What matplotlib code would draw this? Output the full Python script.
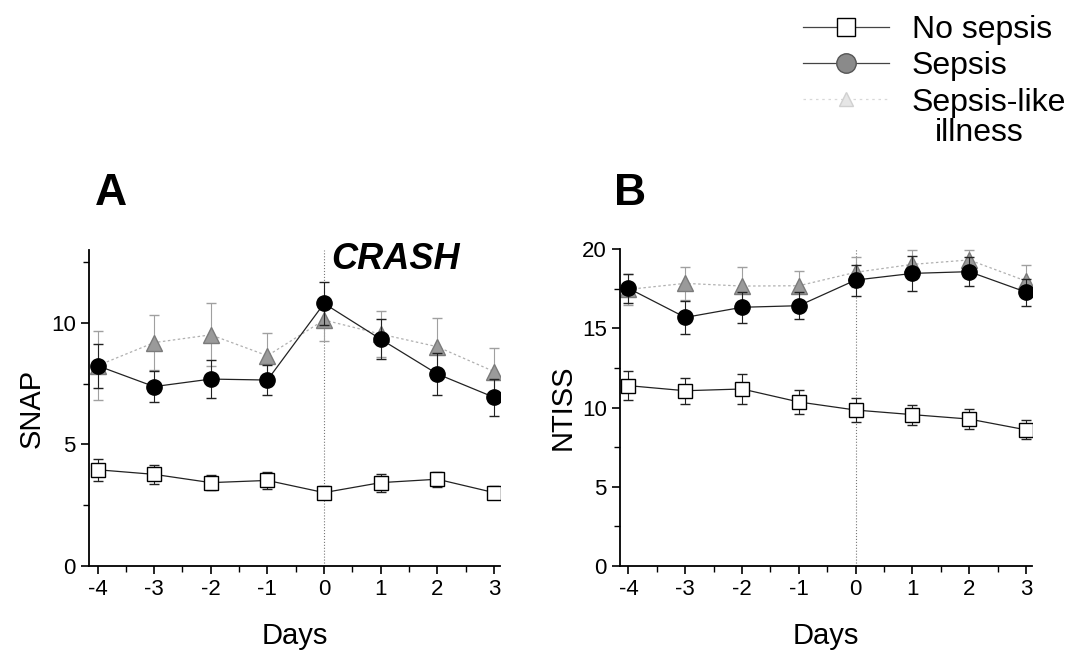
import numpy as np
import matplotlib
matplotlib.use("Agg")
import matplotlib.pyplot as plt
from matplotlib.lines import Line2D
from matplotlib.ticker import MultipleLocator

plt.rcParams['font.family'] = ['Liberation Sans', 'DejaVu Sans']
plt.rcParams['axes.unicode_minus'] = False

days = [-4, -3, -2, -1, 0, 1, 2, 3]

# panel A: SNAP
snap_no = [3.96, 3.77, 3.43, 3.52, 3.02, 3.43, 3.57, 3.02]
snap_no_err = [0.46, 0.38, 0.31, 0.36, 0.26, 0.37, 0.31, 0.26]
snap_sepsis = [8.24, 7.38, 7.69, 7.65, 10.8, 9.33, 7.9, 6.94]
snap_sepsis_err = [0.9, 0.65, 0.79, 0.63, 0.87, 0.82, 0.87, 0.75]
snap_like = [8.24, 9.19, 9.51, 8.65, 10.12, 9.54, 9.02, 8.0]
snap_like_err = [1.43, 1.13, 1.3, 0.95, 0.85, 0.95, 1.2, 0.95]

# panel B: NTISS
ntiss_no = [11.39, 11.07, 11.18, 10.36, 9.85, 9.56, 9.28, 8.6]
ntiss_no_err = [0.93, 0.82, 0.92, 0.74, 0.74, 0.63, 0.63, 0.6]
ntiss_sepsis = [17.54, 15.7, 16.34, 16.44, 18.06, 18.48, 18.59, 17.3]
ntiss_sepsis_err = [0.9, 1.03, 0.97, 0.84, 0.98, 1.1, 0.93, 0.85]
ntiss_like = [17.47, 17.85, 17.68, 17.7, 18.55, 19.05, 19.33, 18.0]
ntiss_like_err = [1.0, 1.05, 1.2, 0.95, 0.95, 0.9, 0.6, 1.0]

labels = ['No sepsis', 'Sepsis', 'Sepsis-like']

fig = plt.figure(figsize=(10.75, 6.57), dpi=100)
axA = fig.add_axes([0.0828, 0.1385, 0.382, 0.481])
axB = fig.add_axes([0.5767, 0.1385, 0.383, 0.482])


def panel(ax, no, no_err, sep, sep_err, like, like_err, ytop, ylab):
    ax.axvline(0, color='#777777', lw=0.8, ls=':', zorder=1)
    ax.errorbar(days, like, yerr=like_err, color='#b0b0b0', ls=(0, (2, 2)), lw=0.9,
                marker='^', ms=12, mfc='#9a9a9a', mec='#7a7a7a',
                ecolor='#a0a0a0', elinewidth=0.8, capsize=3.5, zorder=2)
    ax.errorbar(days, sep, yerr=sep_err, color='#222222', lw=0.9,
                marker='o', ms=11, mfc='black', mec='black',
                ecolor='#222222', elinewidth=0.8, capsize=3.5, zorder=3)
    ax.errorbar(days, no, yerr=no_err, color='#222222', lw=0.9,
                marker='s', ms=10, mfc='white', mec='black', mew=1.0,
                ecolor='#222222', elinewidth=0.8, capsize=3.5, zorder=4)
    ax.set_xlim(-4.15, 3.1)
    ax.set_ylim(0, ytop)
    ax.spines['top'].set_visible(False)
    ax.spines['right'].set_visible(False)
    ax.spines['left'].set_linewidth(1.3)
    ax.spines['bottom'].set_linewidth(1.3)
    ax.set_xticks(days)
    ax.xaxis.set_minor_locator(MultipleLocator(0.5))
    ax.yaxis.set_major_locator(MultipleLocator(5))
    ax.yaxis.set_minor_locator(MultipleLocator(2.5))
    ax.tick_params(which='major', length=6, width=1.2, labelsize=16)
    ax.tick_params(which='minor', length=4, width=1.0)
    ax.set_ylabel(ylab, fontsize=21, labelpad=4)
    ax.set_xlabel('Days', fontsize=21, labelpad=16)


panel(axA, snap_no, snap_no_err, snap_sepsis, snap_sepsis_err,
      snap_like, snap_like_err, 13, 'SNAP')
panel(axB, ntiss_no, ntiss_no_err, ntiss_sepsis, ntiss_sepsis_err,
      ntiss_like, ntiss_like_err, 20, 'NTISS')

axA.text(0.12, 12.6, 'CRASH', fontsize=26, fontweight='bold', fontstyle='italic',
         ha='left', va='center')
fig.text(0.088, 0.688, 'A', fontsize=32, fontweight='bold')
fig.text(0.571, 0.688, 'B', fontsize=32, fontweight='bold')

handles = [
    Line2D([], [], color='#444444', lw=0.9, marker='s', ms=13, mfc='white', mec='black'),
    Line2D([], [], color='#444444', lw=0.9, marker='o', ms=14, mfc='#8a8a8a', mec='#555555'),
    Line2D([], [], color='#d8d8d8', lw=0.9, ls=(0, (2, 3)), marker='^', ms=10,
           mfc='#e6e6e6', mec='#d0d0d0'),
]
fig.legend(handles, labels, loc='upper left', bbox_to_anchor=(0.735, 0.997),
           frameon=False, fontsize=23, handlelength=2.7, handletextpad=0.7,
           labelspacing=0.2, borderaxespad=0)
fig.text(0.870, 0.797, 'illness', fontsize=23, va='center')

fig.savefig('out.png', dpi=100)
